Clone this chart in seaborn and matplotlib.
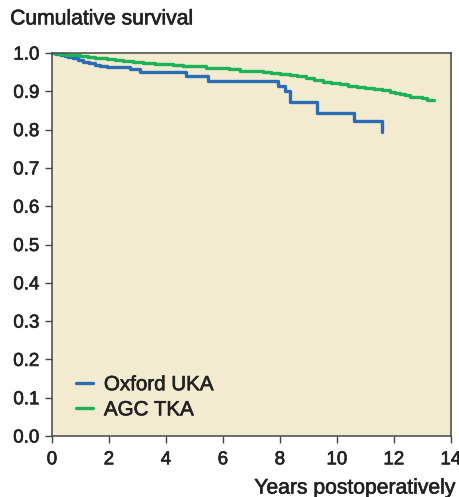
import pandas as pd
import matplotlib.pyplot as plt
import matplotlib.patheffects as pe
import seaborn as sns

# Kaplan-Meier survival
oxford_years = [0.0, 0.15, 0.3, 0.45, 0.55, 0.75, 0.9, 1.1, 1.3, 1.5, 1.7, 1.92, 2.74, 3.09, 4.72, 5.49,
                7.94, 8.18, 8.35, 9.31, 10.6, 11.6]
oxford_surv = [1.0, 0.998, 0.996, 0.993, 0.990, 0.986, 0.982, 0.977, 0.974, 0.970, 0.967, 0.964, 0.958,
               0.951, 0.940, 0.928, 0.914, 0.900, 0.873, 0.844, 0.823, 0.795]

agc_years = [0.0, 0.25, 0.5, 0.75, 1.0, 1.25, 1.5, 1.7, 1.92, 2.2, 2.5, 2.85, 3.2, 3.6, 3.9, 4.26, 4.6,
             5.0, 5.4, 5.8, 6.2, 6.6, 7.0, 7.4, 7.7, 8.0, 8.35, 8.6, 8.9, 9.2, 9.52, 9.8, 10.1, 10.4,
             10.69, 11.0, 11.3, 11.6, 11.86, 12.05, 12.2, 12.4, 12.56, 12.8, 13.0, 13.15, 13.41]
agc_surv = [1.0, 0.998, 0.996, 0.994, 0.992, 0.990, 0.988, 0.986, 0.984, 0.982, 0.980, 0.977, 0.975,
            0.972, 0.971, 0.969, 0.967, 0.965, 0.962, 0.960, 0.957, 0.954, 0.952, 0.950, 0.948, 0.946,
            0.943, 0.939, 0.934, 0.930, 0.925, 0.922, 0.919, 0.915, 0.912, 0.909, 0.906, 0.903, 0.899,
            0.896, 0.893, 0.890, 0.886, 0.884, 0.882, 0.877, 0.877]

labels = ['Oxford UKA', 'AGC TKA']
colors = ['#2a6cb6', '#1db25a']

df = pd.concat([
    pd.DataFrame({'years': oxford_years, 'surv': oxford_surv, 'group': labels[0]}),
    pd.DataFrame({'years': agc_years, 'surv': agc_surv, 'group': labels[1]}),
])

sns.set_style('ticks')
plt.rcParams['font.family'] = ['Liberation Sans', 'DejaVu Sans']

# Helvetica-ish medium weight: thicken regular glyphs a little
thick = [pe.withStroke(linewidth=0.45, foreground='#222222')]
txt_col = '#222222'

fig = plt.figure(figsize=(4.6, 4.97), dpi=100)
ax = fig.add_axes([0.113, 0.1227, 0.867, 0.7706])
ax.set_facecolor('#f3ebcf')

sns.lineplot(data=df, x='years', y='surv', hue='group', palette=colors, estimator=None,
             sort=False, drawstyle='steps-post', linewidth=2.4, ax=ax)

ax.set_xlim(0, 14)
ax.set_ylim(0, 1.0)
ax.set_xticks(range(0, 15, 2))
ax.set_yticks([i / 10 for i in range(11)])
ax.set_yticklabels([f'{i / 10:.1f}' for i in range(11)])
ax.tick_params(direction='out', length=5, width=1, colors='#444444', labelcolor=txt_col,
               labelsize=13.5)
ax.tick_params(axis='x', pad=6)
ax.tick_params(axis='y', pad=4)
for lab in ax.get_xticklabels() + ax.get_yticklabels():
    lab.set_path_effects(thick)
for s in ax.spines.values():
    s.set_visible(True)
    s.set_color('#444444')
    s.set_linewidth(1.1)

ax.set_xlabel('')
ax.set_ylabel('')
fig.text(0.022, 0.962, 'Cumulative survival', fontsize=15.2, color=txt_col, va='center',
         path_effects=thick)
fig.text(0.99, 0.018, 'Years postoperatively', fontsize=15.2, color=txt_col, ha='right',
         va='center', path_effects=thick)

leg = ax.legend(loc='lower left', bbox_to_anchor=(0.04, 0.022), frameon=False, fontsize=14.8,
                handlelength=0.8, handletextpad=0.55, labelspacing=0.3, borderaxespad=0)
for t in leg.get_texts():
    t.set_color(txt_col)
    t.set_path_effects(thick)

fig.savefig('out.png', dpi=100)
